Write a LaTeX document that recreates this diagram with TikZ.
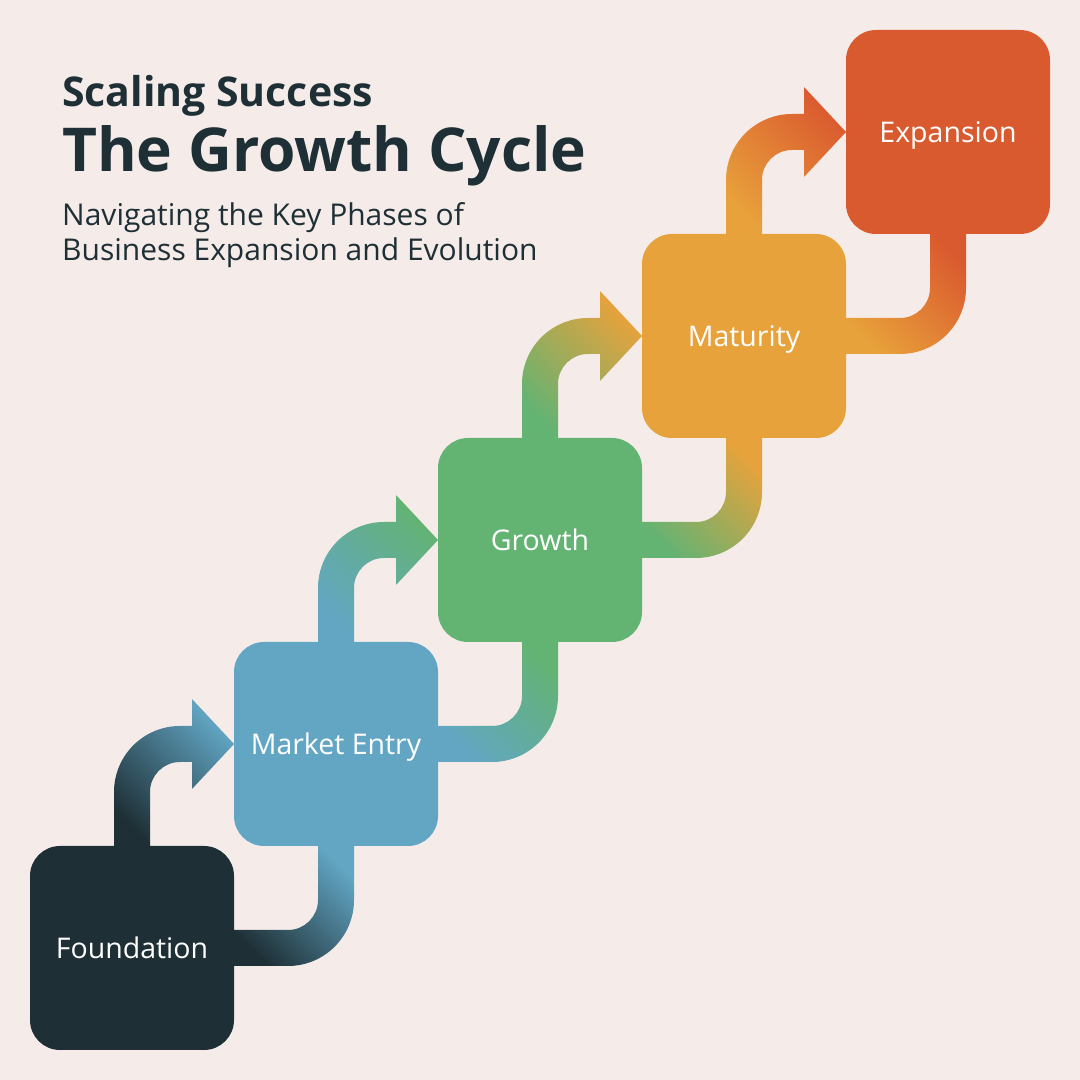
\documentclass[tikz,border=0pt]{standalone}
\usepackage{fontspec}
\setmainfont{Open Sans}
\usepackage{tikz}
\usetikzlibrary{calc}
\usetikzlibrary{backgrounds}
\definecolor{bgcol}{HTML}{F5ECE9}
\definecolor{inkcol}{HTML}{1E2F35}
\definecolor{foundcol}{HTML}{1E2F35}
\definecolor{marketcol}{HTML}{62A6C4}
\definecolor{growthcol}{HTML}{63B373}
\definecolor{maturecol}{HTML}{E8A23B}
\definecolor{expandcol}{HTML}{DA5A2F}

\begin{document}
\begin{tikzpicture}[x=1pt,y=1pt,
	  phase/.style={rounded corners=30pt, minimum width=204pt, minimum height=204pt, inner sep=0pt, outer sep=0pt},
	  phasetext/.style={text=white, anchor=base, font=\fontsize{28.5}{34}\selectfont},
	  headtext/.style={text=inkcol, anchor=base west, inner sep=0pt}]

	  \useasboundingbox (0,0) rectangle (1080,1080);

	  \node[phase, fill=foundcol] (found) at (132,132) {};
	  \node[phase, fill=marketcol] (market) at (336,336) {};
	  \node[phase, fill=growthcol] (growth) at (540,540) {};
	  \node[phase, fill=maturecol] (mature) at (744,744) {};
	  \node[phase, fill=expandcol] (expand) at (948,948) {};

	  \node[phasetext] (foundtxt) at ($(found.center)+(0,-11)$) {Foundation};
	  \node[phasetext] (markettxt) at ($(market.center)+(0,-11)$) {Market Entry};
	  \node[phasetext] (growthtxt) at ($(growth.center)+(0,-11)$) {Growth};
	  \node[phasetext] (maturetxt) at ($(mature.center)+(0,-11)$) {Maturity};
	  \node[phasetext] (expandtxt) at ($(expand.center)+(0,-11)$) {Expansion};

	  \node[headtext, font=\fontsize{41}{48}\selectfont\bfseries] (kicker) at (62,973) {Scaling Success};
	  \node[headtext, font=\fontsize{60.5}{72}\selectfont\bfseries] (title) at (62,908) {The Growth Cycle};
	  \node[headtext, font=\fontsize{30}{36}\selectfont] (sub1) at (62,854) {Navigating the Key Phases of};
	  \node[headtext, font=\fontsize{30}{36}\selectfont] (sub2) at (62,819) {Business Expansion and Evolution};

	  \begin{scope}[on background layer]
	    \fill[bgcol] (0,0) rectangle (1080,1080);
	    \foreach \a/\b/\ca/\cb in {found/market/foundcol/marketcol, market/growth/marketcol/growthcol,
	        growth/mature/growthcol/maturecol, mature/expand/maturecol/expandcol}{
	      \shade[bottom color=\ca, top color=\cb, shading angle=-45]
	        ($(\a.north)+(-18,-4)$) -- ($(\a.north)+(-18,54)$) arc[start angle=180, end angle=90, radius=66]
	        -- ($(\b.west)+(-42,18)$) -- ($(\b.west)+(-42,45)$) -- (\b.west) -- ($(\b.west)+(-42,-45)$)
	        -- ($(\b.west)+(-42,-18)$) -- ($(\a.north)+(48,84)$) arc[start angle=90, end angle=180, radius=30]
	        -- ($(\a.north)+(18,-4)$) -- cycle;
	      \shade[bottom color=\ca, top color=\cb, shading angle=-45]
	        ($(\a.east)+(-4,-18)$) -- ($(\a.east)+(54,-18)$) arc[start angle=-90, end angle=0, radius=66]
	        -- ($(\b.south)+(18,4)$) -- ($(\b.south)+(-18,4)$) -- ($(\b.south)+(-18,-54)$)
	        arc[start angle=0, end angle=-90, radius=30] -- ($(\a.east)+(-4,18)$) -- cycle;
	    }
	  \end{scope}
	\end{tikzpicture}
\end{document}
